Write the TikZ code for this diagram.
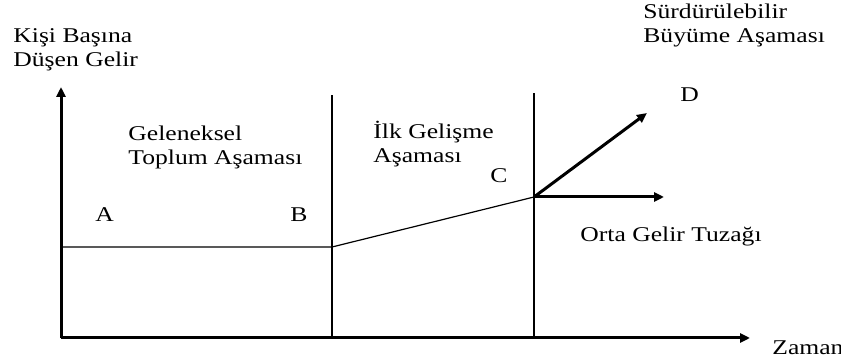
\documentclass[tikz,border=0pt]{standalone}
\usepackage{fontspec}
\setmainfont{Liberation Serif}[FakeStretch=1.22]
\usetikzlibrary{arrows.meta}
\begin{document}
\begin{tikzpicture}[x=0.5pt,y=-0.5pt,
    etiket/.style={font=\fontsize{10.5}{12}\selectfont,inner sep=0pt,anchor=base west,align=left},
    eksen/.style={line width=1.5pt,-{Triangle[length=5pt,width=4.5pt]}},
    ince/.style={line width=0.7pt}]
    \useasboundingbox (0,0) rectangle (841,363);
    % koordinatlar
    \coordinate (O) at (61,338);
    \coordinate (Y) at (61,87);
    \coordinate (X) at (750,338);
    \coordinate (A) at (61,247);
    \coordinate (B) at (332,247);
    \coordinate (C) at (534,197);
    \coordinate (D) at (647,113);
    \coordinate (T) at (664,197);
    \coordinate (B1) at (332,338);
    \coordinate (B2) at (332,95);
    \coordinate (C1) at (534,338);
    \coordinate (C2) at (534,93);

    % eksenler
    \draw[eksen] (O) -- (Y);
    \draw[eksen] (O) -- (X);

    % asama sinirlari
    \draw[ince] (B1) -- (B2);
    \draw[ince] (C1) -- (C2);

    % gelir yolu
    \draw[line width=0.6pt] (A) -- (B) -- (C);
    \draw[eksen] (C) -- (D);
    \draw[eksen] (C) -- (T);

    % etiketler (iki satirlilarda son satirin tabani)
    \node[etiket] (gelir) at (13,67) {Kişi Başına\\Düşen Gelir};
    \node[etiket] (zaman) at (772,355) {Zaman};
    \node[etiket] (geleneksel) at (128,165) {Geleneksel\\Toplum Aşaması};
    \node[etiket] (ilk) at (373,163) {İlk Gelişme\\Aşaması};
    \node[etiket] (surdurulebilir) at (643,43) {Sürdürülebilir\\Büyüme Aşaması};
    \node[etiket] (tuzak) at (580,242) {Orta Gelir Tuzağı};
    \node[etiket] (a) at (95,222) {A};
    \node[etiket] (b) at (290,222) {B};
    \node[etiket] (c) at (490,183) {C};
    \node[etiket] (d) at (680,102) {D};
\end{tikzpicture}
\end{document}
